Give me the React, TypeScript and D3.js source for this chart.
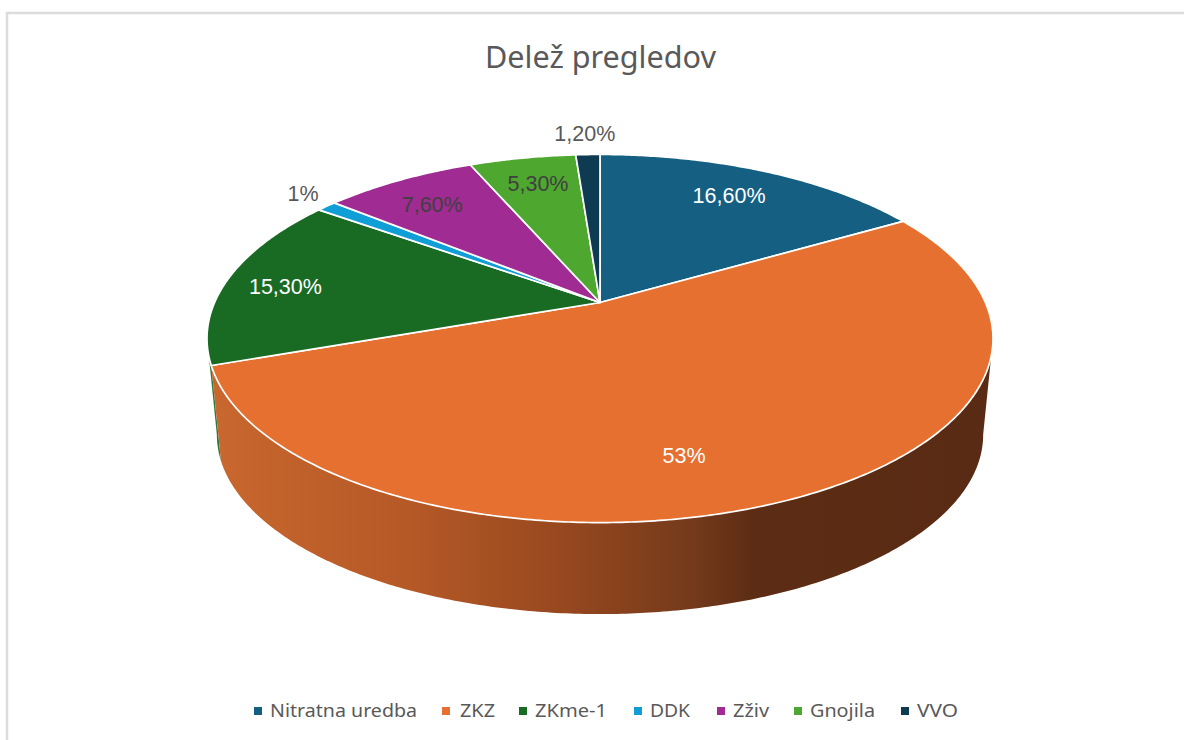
import React from "react";
import * as d3 from "d3";

// ---- data ----
const categories = ["Nitratna uredba", "ZKZ", "ZKme-1", "DDK", "Zživ", "Gnojila", "VVO"];
const shares = [16.6, 53, 15.3, 1, 7.6, 5.3, 1.2];
const shareLabels = ["16,60%", "53%", "15,30%", "1%", "7,60%", "5,30%", "1,20%"];
const title = "Delež pregledov";

// ---- styles ----
const colors = ["#156082", "#E6702F", "#196B24", "#0F9ED5", "#A02B93", "#4EA72E", "#0E3A52"];
const labelColors = ["#ffffff", "#ffffff", "#ffffff", "#595959", "#404040", "#404040", "#595959"];

// ---- layout ----
const W = 1184;
const H = 740;
const CX = 600;
const APEX_Y = 302.5;
const RX = 385.4;
const RY = 177;
const K = 0.1957; // perspective strength
const BOTTOM_SCALE = 0.975;
const BOTTOM_Y = 399.5;
const labelRadius = [0.784, 0.763, 0.836, 1.122, 0.79, 0.796, 1.175];
const labelShiftDeg = [-0.9, 10.7, -1.8, 1.2, -1.1, 0.4, -0.2];
const legendSwatchX = [254, 442, 519, 634, 717, 794, 901];
const legendTextX = [270, 460, 535, 650, 733, 810, 917];
const legendTextW = [147, 35, 72, 40, 36, 65, 41];

type P = [number, number];

function project(angle: number, r = 1, scale = 1, y0 = APEX_Y): P {
  const u = r * Math.sin(angle);
  const v = -r * Math.cos(angle);
  const w = 1 - K * v;
  return [CX + (scale * RX * u) / w, y0 + (scale * RY * v) / w];
}

function arcSamples(a0: number, a1: number, scale = 1, y0 = APEX_Y): P[] {
  const n = Math.max(4, Math.ceil(Math.abs(a1 - a0) / 0.01));
  return d3.range(n + 1).map((i) => project(a0 + ((a1 - a0) * i) / n, 1, scale, y0));
}

const lineGen = d3.line<P>();
const arcs = d3.pie<number>().sort(null).value((d) => d)(shares);

// The rim's silhouette: the angles where the projected ellipse is widest.
const RIGHT_WIDE = Math.acos(-K);
const LEFT_WIDE = 2 * Math.PI - RIGHT_WIDE;

const gradStops: [number, string][] = [
  [0, "#c8672e"],
  [0.26, "#b45826"],
  [0.45, "#97481f"],
  [0.62, "#743a1b"],
  [0.7, "#5c2c14"],
  [1, "#5a2b14"],
];

export default function App() {
  const zkz = arcs[1];
  const zkme = arcs[2];
  const wallStart = Math.max(zkz.startAngle, RIGHT_WIDE);
  const wallOrange = [
    ...arcSamples(wallStart, zkz.endAngle),
    ...arcSamples(zkz.endAngle, wallStart, BOTTOM_SCALE, BOTTOM_Y),
  ];
  const wallGreen = [
    ...arcSamples(zkme.startAngle, LEFT_WIDE),
    ...arcSamples(LEFT_WIDE, zkme.startAngle, BOTTOM_SCALE, BOTTOM_Y),
  ];
  const apex: P = [CX, APEX_Y];

  return (
    <svg
      width={W}
      height={H}
      viewBox={`0 0 ${W} ${H}`}
      style={{ position: "absolute", left: 0, top: 0, display: "block", background: "#fff" }}
    >
      <defs>
        <linearGradient id="wall" gradientUnits="userSpaceOnUse" x1={218} y1={0} x2={983} y2={0}>
          {gradStops.map(([o, c]) => (
            <stop key={o} offset={o} stopColor={c} />
          ))}
        </linearGradient>
      </defs>

      <path d="M1184,13 H7 V740" fill="none" stroke="#dcdcdc" strokeWidth={2.5} />

      <text
        x={600.5}
        y={68}
        textAnchor="middle"
        fontFamily="'Noto Sans', sans-serif"
        fontSize={30.6}
        fill="#595959"
      >
        {title}
      </text>

      <path d={lineGen(wallGreen) + "Z"} fill="#2f7a3a" />
      <path d={lineGen(wallOrange) + "Z"} fill="url(#wall)" />

      {arcs.map((a, i) => (
        <path
          key={categories[i]}
          d={lineGen([apex, ...arcSamples(a.startAngle, a.endAngle)]) + "Z"}
          fill={colors[i]}
          stroke="#ffffff"
          strokeWidth={1.7}
          strokeLinejoin="round"
        />
      ))}

      {arcs.map((a, i) => {
        const mid = (a.startAngle + a.endAngle) / 2 + (labelShiftDeg[i] * Math.PI) / 180;
        const [x, y] = project(mid, labelRadius[i]);
        return (
          <text
            key={shareLabels[i]}
            x={x}
            y={y}
            dy="0.35em"
            textAnchor="middle"
            fontFamily="'Liberation Sans', Arial, sans-serif"
            fontSize={21.5}
            fill={labelColors[i]}
          >
            {shareLabels[i]}
          </text>
        );
      })}

      {categories.map((c, i) => (
        <g key={c}>
          <rect x={legendSwatchX[i]} y={707} width={8} height={8} fill={colors[i]} />
          <text
            x={legendTextX[i]}
            y={717}
            fontFamily="'Noto Sans', sans-serif"
            fontSize={18}
            fill="#595959"
            textLength={legendTextW[i]}
            lengthAdjust="spacingAndGlyphs"
          >
            {c}
          </text>
        </g>
      ))}
    </svg>
  );
}
